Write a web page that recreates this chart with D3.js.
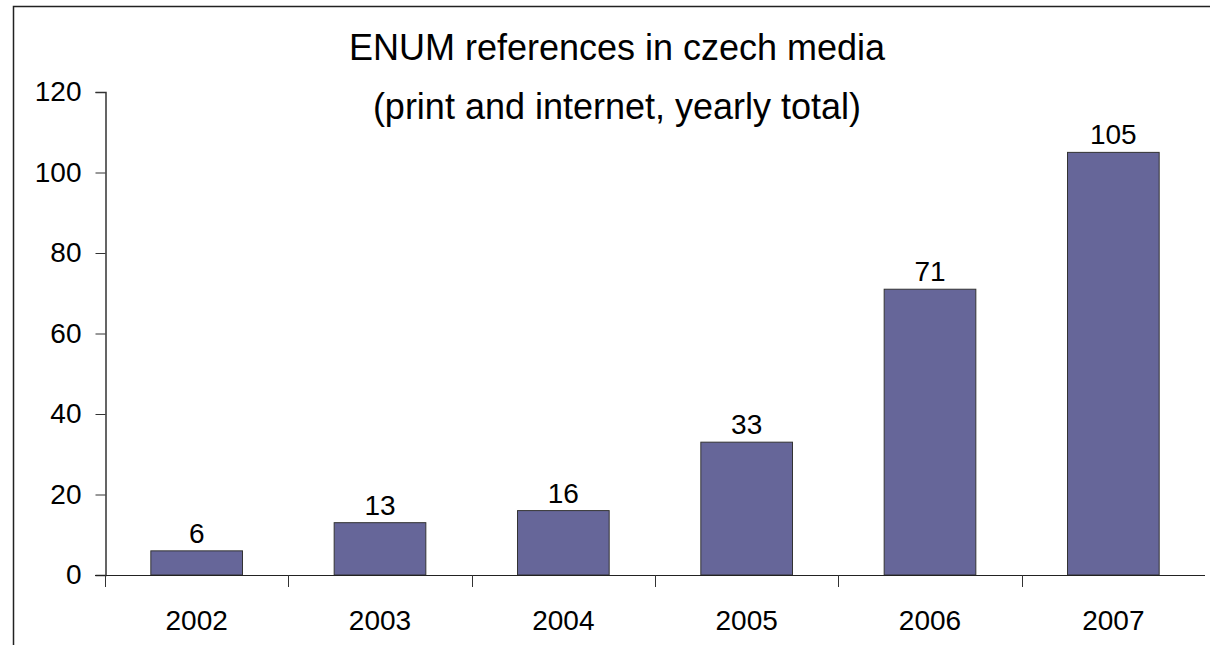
<!DOCTYPE html>
<html>
<head>
<meta charset="utf-8">
<script src="https://cdn.jsdelivr.net/npm/d3@7"></script>
<style>
html,body{margin:0;padding:0;background:#fff;}
svg{display:block;font-family:"Liberation Sans",Arial,sans-serif;}
</style>
</head>
<body>
<svg id="chart" width="1210" height="645"></svg>
<script>
const categories = ["2002","2003","2004","2005","2006","2007"];
const values = [6,13,16,33,71,105];
const yTicks = [0,20,40,60,80,100,120];
const titleLines = ["ENUM references in czech media","(print and internet, yearly total)"];

const svg = d3.select("#chart");
const plotBottom = 575;

// frame
svg.append("path")
  .attr("d", `M13.5,645 L13.5,6.5 L1210,6.5`)
  .attr("fill","none").attr("stroke","#222").attr("stroke-width",1.5);

const x = d3.scaleBand().domain(categories).range([105, 1205]).paddingInner(0.5).paddingOuter(0.25);
const y = d3.scaleLinear().domain([0,120]).range([plotBottom, 92]);

// bars
svg.append("g").selectAll("rect").data(values).join("rect")
  .attr("x",(d,i)=>x(categories[i]))
  .attr("y",d=>y(d))
  .attr("width",x.bandwidth())
  .attr("height",d=>y(0)-y(d))
  .attr("fill","#666699")
  .attr("stroke","#333")
  .attr("stroke-width",1);

// y axis
const yAxis = svg.append("g").attr("transform","translate(105.5,0)")
  .call(d3.axisLeft(y).tickValues(yTicks).tickSize(10).tickPadding(14));
yAxis.select(".domain").attr("stroke","#333").attr("stroke-width",1.5);
yAxis.selectAll(".tick line").attr("stroke","#333");
yAxis.selectAll("text").attr("font-size",28).attr("fill","#000").attr("font-family","Liberation Sans, Arial, sans-serif");

// x axis line
const xAxisG = svg.append("g");
xAxisG.append("line").attr("x1",95).attr("x2",1205).attr("y1",plotBottom+0.5).attr("y2",plotBottom+0.5)
  .attr("stroke","#222").attr("stroke-width",1.2);
const step = x.step();
const bounds = d3.range(categories.length).map(i => 105 + i*step);
xAxisG.selectAll("line.tk").data(bounds).join("line").attr("class","tk")
  .attr("x1",d=>Math.round(d)+0.5).attr("x2",d=>Math.round(d)+0.5)
  .attr("y1",plotBottom).attr("y2",plotBottom+12)
  .attr("stroke","#333").attr("stroke-width",1);
xAxisG.selectAll("text").data(categories).join("text")
  .attr("x",d=>x(d)+x.bandwidth()/2)
  .attr("y",630)
  .attr("text-anchor","middle")
  .attr("font-size",28)
  .text(d=>d);

// value labels
svg.append("g").selectAll("text").data(values).join("text")
  .attr("x",(d,i)=>x(categories[i])+x.bandwidth()/2)
  .attr("y",d=>y(d)-8)
  .attr("text-anchor","middle")
  .attr("font-size",28)
  .text(d=>d);

// title
svg.append("g").selectAll("text").data(titleLines).join("text")
  .attr("x",617)
  .attr("y",(d,i)=>60+i*59)
  .attr("text-anchor","middle")
  .attr("font-size",36)
  .text(d=>d);
</script>
</body>
</html>
